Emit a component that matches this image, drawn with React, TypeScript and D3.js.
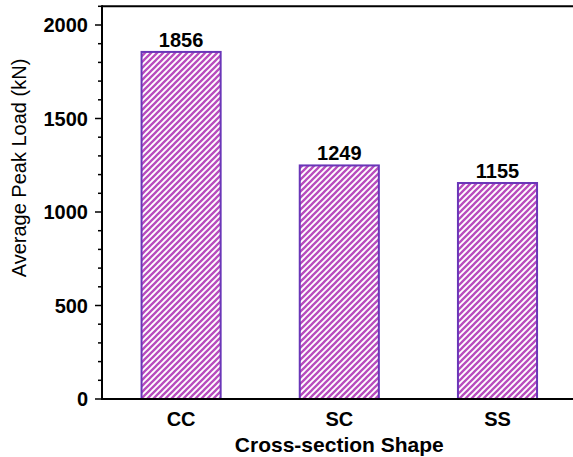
import * as d3 from "d3";

const categories = ["CC", "SC", "SS"];
const peakLoads = [1856, 1249, 1155];
const yTicks = [0, 500, 1000, 1500, 2000];

const W = 573;
const H = 457;
const left = 102;
const right = 576.6;
const top = 6.3;
const bottom = 399;

export default function App() {
  const x = d3
    .scaleBand()
    .domain(categories)
    .range([left, right])
    .paddingInner(0.5)
    .paddingOuter(0.25);

  const y = d3.scaleLinear().domain([0, 2100]).range([bottom, top]);
  const minor = d3.range(0, 2101, 100);

  const font = "'Liberation Sans', Arial, sans-serif";

  return (
    <svg
      width={W}
      height={H}
      style={{ position: "absolute", left: 0, top: 0, background: "#fff" }}
    >
      <defs>
        <pattern
          id="hatch"
          patternUnits="userSpaceOnUse"
          width={6}
          height={6}
        >
          <rect width={6} height={6} fill="#fff" />
          <path
            d="M-1,7 L7,-1 M-4,4 L4,-4 M2,10 L10,2"
            stroke="#b84cbe"
            strokeWidth={2.3}
          />
        </pattern>
      </defs>

      {/* bars */}
      {categories.map((c, i) => (
        <g key={c}>
          <rect
            x={x(c)}
            y={y(peakLoads[i])}
            width={x.bandwidth()}
            height={bottom - y(peakLoads[i])}
            fill="url(#hatch)"
            stroke="#6a36b8"
            strokeWidth={2}
          />
          <text
            x={(x(c) ?? 0) + x.bandwidth() / 2}
            y={y(peakLoads[i]) - 5}
            textAnchor="middle"
            fontFamily={font}
            fontWeight="bold"
            fontSize={20}
          >
            {peakLoads[i]}
          </text>
        </g>
      ))}

      {/* frame */}
      <line x1={left} x2={W} y1={top} y2={top} stroke="#000" strokeWidth={2} />
      <line x1={left} x2={W} y1={bottom} y2={bottom} stroke="#000" strokeWidth={2} />
      <line x1={left} x2={left} y1={top - 1} y2={bottom + 1} stroke="#000" strokeWidth={2} />

      {/* y ticks */}
      {minor.map((v) => (
        <line
          key={v}
          x1={left}
          x2={left - (v % 500 === 0 ? 7 : 4)}
          y1={y(v)}
          y2={y(v)}
          stroke="#000"
          strokeWidth={1.5}
        />
      ))}
      {yTicks.map((v) => (
        <text
          key={v}
          x={left - 14}
          y={y(v)}
          dy="0.36em"
          textAnchor="end"
          fontFamily={font}
          fontWeight="bold"
          fontSize={20}
        >
          {v}
        </text>
      ))}

      {/* x labels */}
      {categories.map((c) => (
        <text
          key={c}
          x={(x(c) ?? 0) + x.bandwidth() / 2}
          y={426}
          textAnchor="middle"
          fontFamily={font}
          fontWeight="bold"
          fontSize={20}
        >
          {c}
        </text>
      ))}

      <text
        x={(x("SC") ?? 0) + x.bandwidth() / 2}
        y={452}
        textAnchor="middle"
        fontFamily={font}
        fontWeight="bold"
        fontSize={21}
      >
        Cross-section Shape
      </text>

      <text
        transform={`translate(26, 168) rotate(-90)`}
        textAnchor="middle"
        fontFamily={font}
        fontSize={20}
      >
        Average Peak Load (kN)
      </text>
    </svg>
  );
}
